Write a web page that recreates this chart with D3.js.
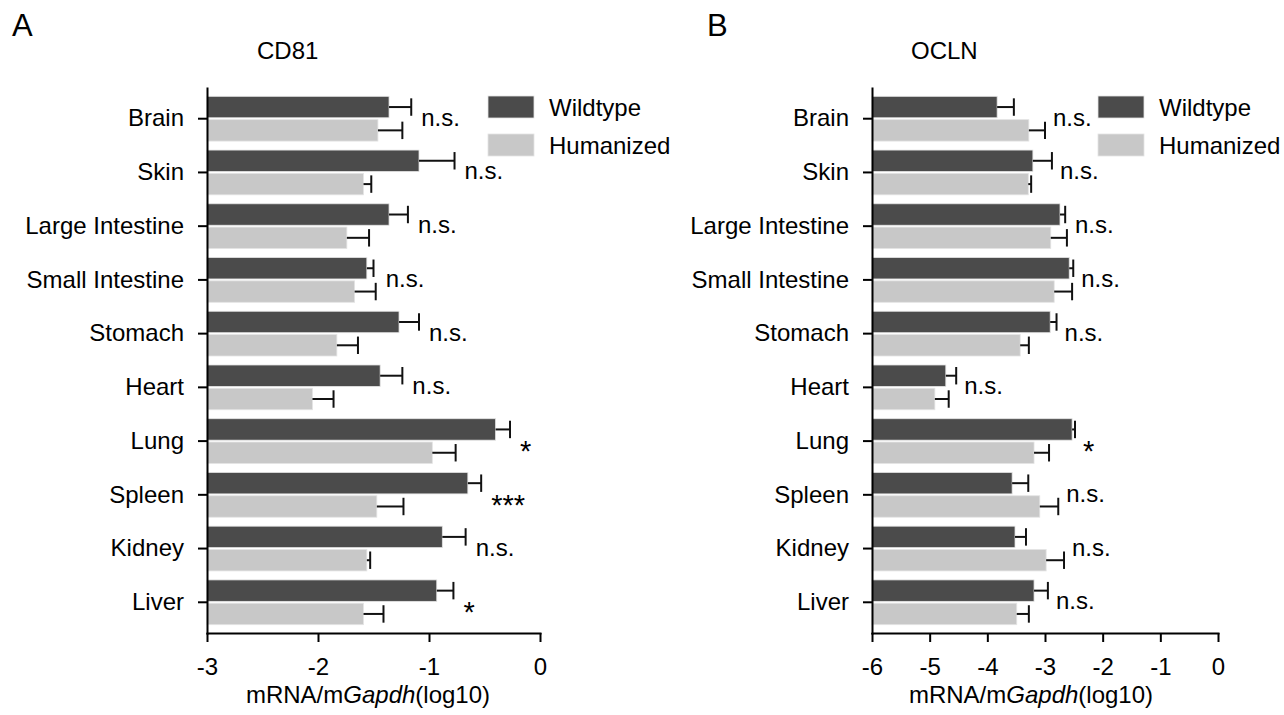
<!DOCTYPE html>
<html>
<head>
<meta charset="utf-8">
<script src="https://cdn.jsdelivr.net/npm/d3@7"></script>
<style>
  body { margin: 0; background: #fff; }
  svg { display: block; font-family: "Liberation Sans", Arial, sans-serif; }
</style>
</head>
<body>
<svg width="1284" height="715"></svg>
<script>
// values (log10 of mRNA / mGapdh)
var tissues = ["Brain", "Skin", "Large Intestine", "Small Intestine", "Stomach",
               "Heart", "Lung", "Spleen", "Kidney", "Liver"];
var series = ["Wildtype", "Humanized"];

var cd81Wt     = [-1.36, -1.09, -1.36, -1.56, -1.27, -1.44, -0.40, -0.65, -0.88, -0.93];
var cd81WtErr  = [0.20, 0.32, 0.17, 0.06, 0.18, 0.20, 0.13, 0.12, 0.21, 0.15];
var cd81Hu     = [-1.46, -1.59, -1.74, -1.67, -1.83, -2.05, -0.97, -1.47, -1.56, -1.59];
var cd81HuErr  = [0.22, 0.07, 0.20, 0.19, 0.19, 0.19, 0.21, 0.24, 0.03, 0.18];
var cd81Sig    = ["n.s.", "n.s.", "n.s.", "n.s.", "n.s.", "n.s.", "*", "***", "n.s.", "*"];

var oclnWt     = [-3.83, -3.21, -2.74, -2.58, -2.91, -4.72, -2.53, -3.57, -3.52, -3.19];
var oclnWtErr  = [0.29, 0.33, 0.09, 0.07, 0.11, 0.18, 0.05, 0.28, 0.19, 0.24];
var oclnHu     = [-3.28, -3.29, -2.90, -2.84, -3.43, -4.91, -3.19, -3.09, -2.98, -3.49];
var oclnHuErr  = [0.28, 0.05, 0.28, 0.31, 0.15, 0.24, 0.26, 0.32, 0.31, 0.21];
var oclnSig    = ["n.s.", "n.s.", "n.s.", "n.s.", "n.s.", "n.s.", "*", "n.s.", "n.s.", "n.s."];

var cd81Ticks = [-3, -2, -1, 0];
var oclnTicks = [-6, -5, -4, -3, -2, -1, 0];

var colors = {Wildtype: "#4b4b4b", Humanized: "#c8c8c8"};
var fontSize = 24;

var svg = d3.select("svg");

function drawPanel(p) {
    var g = svg.append("g");

    var x = d3.scaleLinear().domain(p.domain).range([p.left, p.right]);
    var y = d3.scaleBand().domain(tissues).range([p.top, p.bottom])
        .paddingInner(0.167).paddingOuter(0.155);
    var ySub = d3.scaleBand().domain(series).range([0, y.bandwidth()]).paddingInner(0.08);

    var rows = [];
    tissues.forEach(function(t, i) {
        rows.push({tissue: t, s: "Wildtype", v: p.wt[i], e: p.wtErr[i]});
        rows.push({tissue: t, s: "Humanized", v: p.hu[i], e: p.huErr[i]});
    });

    g.selectAll("rect.bar").data(rows).enter().append("rect")
        .attr("class", "bar")
        .attr("x", x(p.domain[0]))
        .attr("y", function(d) { return y(d.tissue) + ySub(d.s); })
        .attr("width", function(d) { return x(d.v) - x(p.domain[0]); })
        .attr("height", ySub.bandwidth())
        .attr("fill", function(d) { return colors[d.s]; })
        .attr("stroke", "#e4e4e4")
        .attr("stroke-width", 0.8);

    // error bars (upper side only)
    var eb = g.selectAll("g.err").data(rows).enter().append("g").attr("class", "err");
    eb.append("line")
        .attr("x1", function(d) { return x(d.v); })
        .attr("x2", function(d) { return x(d.v + d.e); })
        .attr("y1", function(d) { return y(d.tissue) + ySub(d.s) + ySub.bandwidth() / 2; })
        .attr("y2", function(d) { return y(d.tissue) + ySub(d.s) + ySub.bandwidth() / 2; });
    eb.append("line")
        .attr("x1", function(d) { return x(d.v + d.e); })
        .attr("x2", function(d) { return x(d.v + d.e); })
        .attr("y1", function(d) { return y(d.tissue) + ySub(d.s) + 2; })
        .attr("y2", function(d) { return y(d.tissue) + ySub(d.s) + ySub.bandwidth() - 2; });
    eb.selectAll("line").attr("stroke", "#111").attr("stroke-width", 2);

    // significance labels
    g.selectAll("text.sig").data(tissues).enter().append("text")
        .attr("class", "sig")
        .attr("x", function(t, i) {
            return Math.max(x(p.wt[i] + p.wtErr[i]), x(p.hu[i] + p.huErr[i])) + p.sigGap;
        })
        .attr("y", function(t, i) {
            var c = y(t) + y.bandwidth() / 2;
            return p.sig[i].charAt(0) === "*" ? c + 20 : c + 7;
        })
        .attr("font-size", function(t, i) { return p.sig[i].charAt(0) === "*" ? 29 : fontSize; })
        .text(function(t, i) { return p.sig[i]; });

    // axes
    var yAxis = g.append("g")
        .attr("transform", "translate(" + p.left + ",0)")
        .call(d3.axisLeft(y).tickSize(9).tickSizeOuter(0).tickPadding(14));
    var xAxis = g.append("g")
        .attr("transform", "translate(0," + p.bottom + ")")
        .call(d3.axisBottom(x).tickValues(p.ticks).tickFormat(function(d) { return String(d); })
            .tickSize(9).tickSizeOuter(0).tickPadding(16));
    [xAxis, yAxis].forEach(function(a) {
        a.selectAll("path, line").attr("stroke", "#000").attr("stroke-width", 2);
        a.selectAll("text").attr("font-size", fontSize).attr("fill", "#000")
            .attr("font-family", "Liberation Sans, Arial, sans-serif");
    });
    xAxis.select("path").attr("stroke-linecap", "square");
    yAxis.select("path").attr("stroke-linecap", "square");

    // x axis title
    var xt = g.append("text")
        .attr("x", p.xTitleX).attr("y", p.bottom + 70)
        .attr("text-anchor", "middle").attr("font-size", fontSize);
    xt.append("tspan").text("mRNA/m");
    xt.append("tspan").attr("font-style", "italic").text("Gapdh");
    xt.append("tspan").text("(log10)");

    // gene title and panel letter
    g.append("text").attr("x", p.titleX).attr("y", 59)
        .attr("font-size", fontSize).text(p.title);
    g.append("text").attr("x", p.letterX).attr("y", 36)
        .attr("font-size", 31).text(p.letter);

    // legend
    var lg = g.selectAll("g.leg").data(series).enter().append("g").attr("class", "leg")
        .attr("transform", function(d, i) { return "translate(" + p.legendX + "," + (96 + i * 38) + ")"; });
    lg.append("rect").attr("width", 46).attr("height", 22)
        .attr("fill", function(d) { return colors[d]; })
        .attr("stroke", "#e4e4e4").attr("stroke-width", 0.8);
    lg.append("text").attr("x", 61).attr("y", 20)
        .attr("font-size", fontSize).text(function(d) { return d; });
}

drawPanel({
    letter: "A", letterX: 12, title: "CD81", titleX: 257,
    domain: [-3, 0], ticks: cd81Ticks, left: 207, right: 540, top: 88, bottom: 633,
    wt: cd81Wt, wtErr: cd81WtErr, hu: cd81Hu, huErr: cd81HuErr, sig: cd81Sig,
    sigGap: 10, legendX: 488, xTitleX: 368
});

drawPanel({
    letter: "B", letterX: 707, title: "OCLN", titleX: 911,
    domain: [-6, 0], ticks: oclnTicks, left: 872, right: 1218, top: 88, bottom: 633,
    wt: oclnWt, wtErr: oclnWtErr, hu: oclnHu, huErr: oclnHuErr, sig: oclnSig,
    sigGap: 8, legendX: 1098, xTitleX: 1031
});
</script>
</body>
</html>
